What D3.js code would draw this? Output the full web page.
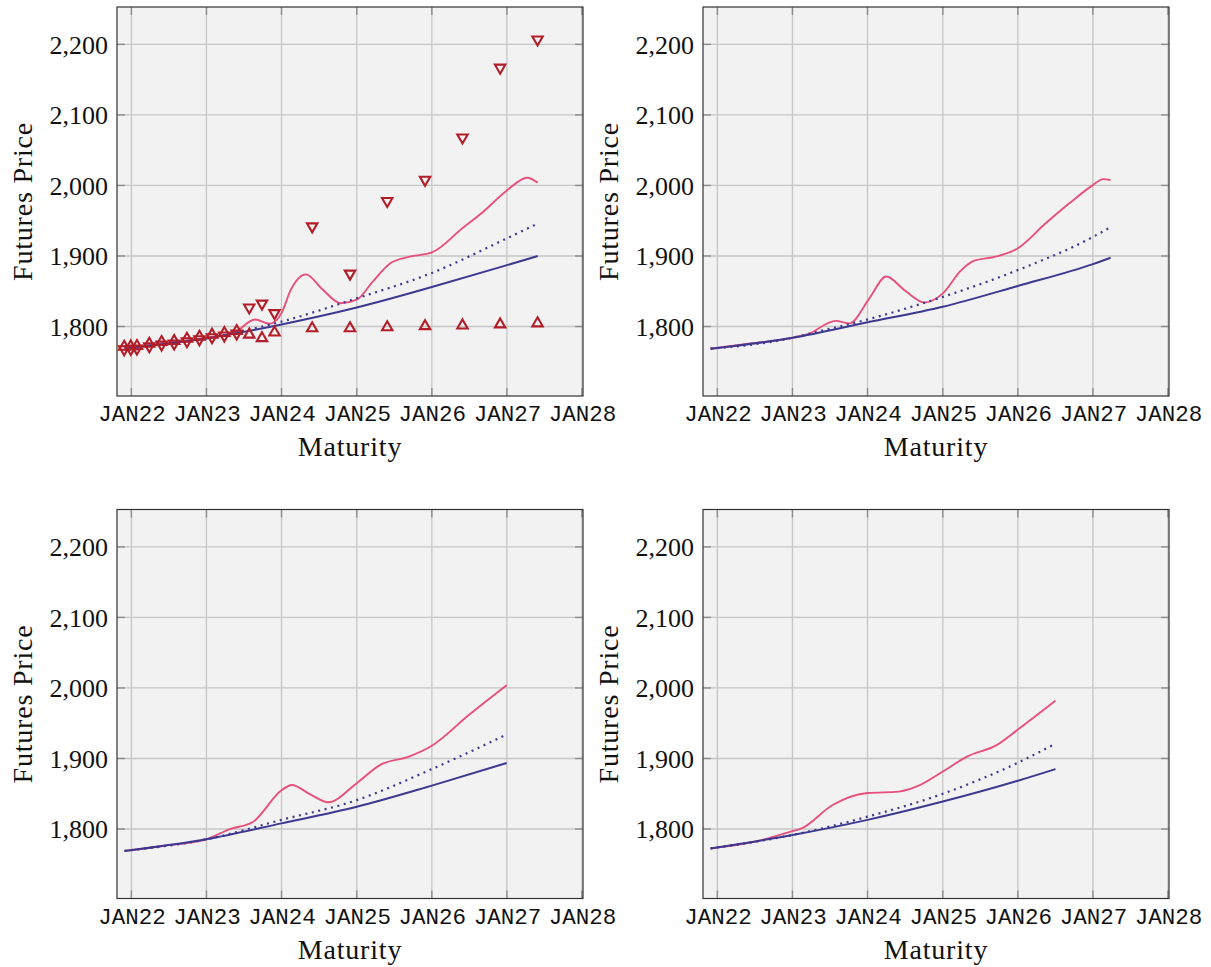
<!DOCTYPE html>
<html><head><meta charset="utf-8">
<script src="https://cdn.jsdelivr.net/npm/d3@7"></script>
<style>body{margin:0;background:#fff}</style>
</head><body>
<svg id="c" width="1211" height="967"></svg>
<script>
// ---------- data ----------
const yTicks = [1800, 1900, 2000, 2100, 2200];
const xTickLabels = ["JAN22","JAN23","JAN24","JAN25","JAN26","JAN27","JAN28"];
const xTickDates = ["2022-01-01","2023-01-01","2024-01-01","2025-01-01","2026-01-01","2027-01-01","2028-01-01"];

// quoted contracts (top-left panel): ask drawn as down-triangle, bid as up-triangle
const contractDates = ["2021-11-27","2021-12-29","2022-01-28","2022-03-29","2022-05-28","2022-07-28","2022-09-28","2022-11-28","2023-01-28","2023-03-29","2023-05-28","2023-07-28","2023-09-28","2023-11-28","2024-05-29","2024-11-29","2025-05-29","2025-11-29","2026-05-30","2026-11-29","2027-05-30"];
const askPrices = [1767.7,1768.2,1768.8,1772,1774.4,1775.8,1779.1,1781.9,1784.8,1787.2,1790,1827,1832.5,1819,1942,1875,1978,2008,2068,2167,2207];
const bidPrices = [1771.3,1771.8,1772.4,1775.6,1778,1779.4,1782.7,1785.5,1788.4,1790.8,1793.6,1788.5,1783.5,1791.5,1797.5,1797.5,1799,1800.5,1801.5,1803,1804.5];

// panel 1 (top-left)
const p1Model = [["2021-11-29",1769.5],["2022-06-01",1776],["2023-01-01",1784],["2023-05-15",1791],["2023-08-25",1810],["2023-11-05",1804],["2024-01-01",1819],["2024-02-15",1852],["2024-04-28",1874],["2024-07-20",1852],["2024-10-15",1833],["2025-01-01",1838],["2025-03-15",1862],["2025-06-15",1890],["2025-09-15",1899],["2026-01-01",1905],["2026-06-01",1940],["2026-09-01",1961],["2027-01-01",1993],["2027-04-10",2011],["2027-05-31",2004]];
const p1Base = [["2021-11-29",1769.5],["2023-01-01",1783],["2024-01-01",1803],["2025-01-01",1827],["2026-01-01",1856],["2027-01-01",1887],["2027-05-31",1900]];
const p1Alt = [["2021-11-29",1769.5],["2023-01-01",1783],["2023-06-01",1792],["2024-01-01",1807],["2025-01-01",1840],["2026-01-01",1876],["2027-01-01",1925],["2027-05-31",1946]];

// panel 2 (top-right)
const p2Model = [["2021-11-29",1768.5],["2022-06-01",1775.5],["2023-01-01",1784],["2023-03-20",1789.5],["2023-07-30",1808],["2023-10-05",1804.5],["2024-01-10",1840],["2024-04-01",1871],["2024-07-01",1851],["2024-10-05",1834],["2025-01-01",1847],["2025-04-01",1880],["2025-06-01",1893],["2025-09-15",1899],["2026-01-01",1911],["2026-05-15",1946],["2026-09-10",1975],["2027-01-01",2000.5],["2027-02-20",2009],["2027-03-28",2007.5]];
const p2Base = [["2021-11-29",1768.5],["2023-01-01",1784],["2024-01-01",1806],["2025-01-01",1828],["2026-01-01",1857.5],["2027-01-01",1888.5],["2027-03-28",1897.5]];
const p2Alt = [["2021-11-29",1768.5],["2023-01-01",1784],["2023-03-20",1789.5],["2024-01-01",1810],["2025-01-01",1842],["2026-01-01",1880],["2027-01-01",1927],["2027-03-28",1941]];

// panel 3 (bottom-left)
const p3Model = [["2021-11-29",1769],["2022-06-01",1776],["2023-01-01",1785.5],["2023-04-25",1800],["2023-08-15",1810],["2024-01-01",1855],["2024-02-20",1862.5],["2024-05-20",1849],["2024-08-15",1838],["2025-01-01",1865],["2025-04-25",1891],["2025-09-15",1903],["2026-01-01",1918],["2026-07-01",1962],["2026-12-31",2004]];
const p3Base = [["2021-11-29",1769],["2023-01-01",1785.5],["2024-01-01",1808],["2025-01-01",1831.5],["2026-01-01",1861.5],["2026-12-31",1893.5]];
const p3Alt = [["2021-11-29",1769],["2023-01-01",1785.5],["2024-01-01",1813],["2025-01-01",1841],["2026-01-01",1885],["2026-12-31",1934]];

// panel 4 (bottom-right)
const p4Model = [["2021-11-29",1772.5],["2022-07-15",1783],["2023-01-01",1797],["2023-02-15",1801],["2023-07-15",1834],["2024-01-01",1851],["2024-06-01",1853],["2024-08-25",1860],["2025-01-01",1881.5],["2025-05-01",1903],["2025-09-20",1919],["2026-01-01",1941],["2026-07-03",1982]];
const p4Base = [["2021-11-29",1772.5],["2023-01-01",1791.5],["2024-01-01",1813],["2025-01-01",1839],["2026-01-01",1868.5],["2026-07-03",1885]];
const p4Alt = [["2021-11-29",1772.5],["2023-01-01",1791.5],["2024-01-01",1817.5],["2025-01-01",1850],["2026-01-01",1894],["2026-07-03",1921]];

// ---------- drawing ----------
const parse = d3.timeParse("%Y-%m-%d");
const W = 466, H = 389;
const COL_MODEL = "#e8507c", COL_BASE = "#3d3890", COL_MARK = "#b31d28";
const svg = d3.select("#c");

const panels = [
  {px:117, py:7,     model:p1Model, base:p1Base, alt:p1Alt, quotes:true},
  {px:703, py:7,     model:p2Model, base:p2Base, alt:p2Alt},
  {px:117, py:509.5, model:p3Model, base:p3Base, alt:p3Alt},
  {px:703, py:509.5, model:p4Model, base:p4Base, alt:p4Alt}
];

function triPath(r, down) {
  const s = down ? -1 : 1;
  return `M0,${-r*s}L${r*0.866},${r*0.5*s}L${-r*0.866},${r*0.5*s}Z`;
}

panels.forEach(p => {
  const g = svg.append("g").attr("transform", `translate(${p.px},${p.py})`);
  const x = d3.scaleTime().domain([parse("2021-10-23"), parse("2028-01-06")]).range([0, W]);
  const y = d3.scaleLinear().domain([1701.5, 2253]).range([H, 0]);

  g.append("rect").attr("width", W).attr("height", H).attr("fill", "#f2f2f2");

  const xt = xTickDates.map(parse);
  // grid
  g.append("g").selectAll("line").data(xt).join("line")
    .attr("x1", d => x(d)).attr("x2", d => x(d)).attr("y1", 0).attr("y2", H)
    .attr("stroke", "#c6c6c6").attr("stroke-width", 1.3);
  g.append("g").selectAll("line").data(yTicks).join("line")
    .attr("y1", d => y(d)).attr("y2", d => y(d)).attr("x1", 0).attr("x2", W)
    .attr("stroke", "#c6c6c6").attr("stroke-width", 1.3);
  // inner ticks
  const tk = g.append("g").attr("stroke", "#8c8c8c").attr("stroke-width", 1.4);
  yTicks.forEach(v => {
    tk.append("line").attr("x1", 0).attr("x2", 8).attr("y1", y(v)).attr("y2", y(v));
    tk.append("line").attr("x1", W-8).attr("x2", W).attr("y1", y(v)).attr("y2", y(v));
  });
  xt.forEach(d => {
    tk.append("line").attr("x1", x(d)).attr("x2", x(d)).attr("y1", H).attr("y2", H-8);
    tk.append("line").attr("x1", x(d)).attr("x2", x(d)).attr("y1", 0).attr("y2", 8);
  });

  const line = d3.line().x(d => x(parse(d[0]))).y(d => y(d[1])).curve(d3.curveMonotoneX);
  g.append("path").datum(p.model).attr("d", line).attr("fill", "none")
    .attr("stroke", COL_MODEL).attr("stroke-width", 1.9);
  g.append("path").datum(p.alt).attr("d", line).attr("fill", "none")
    .attr("stroke", COL_BASE).attr("stroke-width", 2.2).attr("stroke-dasharray", "2,4.6");
  g.append("path").datum(p.base).attr("d", line).attr("fill", "none")
    .attr("stroke", COL_BASE).attr("stroke-width", 2);

  if (p.quotes) {
    const m = g.append("g").attr("fill", "none").attr("stroke", COL_MARK)
      .attr("stroke-width", 2.1).attr("stroke-linejoin", "miter");
    contractDates.forEach((d, i) => {
      m.append("path").attr("d", triPath(6, true))
        .attr("transform", `translate(${x(parse(d))},${y(askPrices[i])})`);
      m.append("path").attr("d", triPath(6, false))
        .attr("transform", `translate(${x(parse(d))},${y(bidPrices[i])})`);
    });
  }

  g.append("rect").attr("width", W).attr("height", H).attr("fill", "none")
    .attr("stroke", "#333").attr("stroke-width", 1.2);

  // axes (labels)
  const ax = g.append("g").attr("transform", `translate(0,${H})`)
    .call(d3.axisBottom(x).tickValues(xt).tickFormat((d, i) => xTickLabels[i]).tickSize(0).tickPadding(0));
  ax.select(".domain").remove();
  ax.selectAll("text").attr("y", 25).attr("dy", 0)
    .attr("font-family", "'Liberation Mono', monospace").attr("font-size", 22.5).attr("fill", "#111");

  const ay = g.append("g")
    .call(d3.axisLeft(y).tickValues(yTicks).tickFormat(d3.format(",")).tickSize(0).tickPadding(9));
  ay.select(".domain").remove();
  ay.selectAll("text").attr("dy", "0.34em")
    .attr("font-family", "'Liberation Serif', serif").attr("font-size", 26).attr("fill", "#111");

  g.append("text").attr("transform", `translate(-85.5,${H/2}) rotate(-90)`)
    .attr("text-anchor", "middle").attr("font-family", "'Liberation Serif', serif")
    .attr("font-size", 28).attr("letter-spacing", 0.8).attr("fill", "#111").text("Futures Price");
  g.append("text").attr("x", W/2).attr("y", H + 60)
    .attr("text-anchor", "middle").attr("font-family", "'Liberation Serif', serif")
    .attr("font-size", 28).attr("letter-spacing", 0.8).attr("fill", "#111").text("Maturity");
});
</script>
</body></html>
